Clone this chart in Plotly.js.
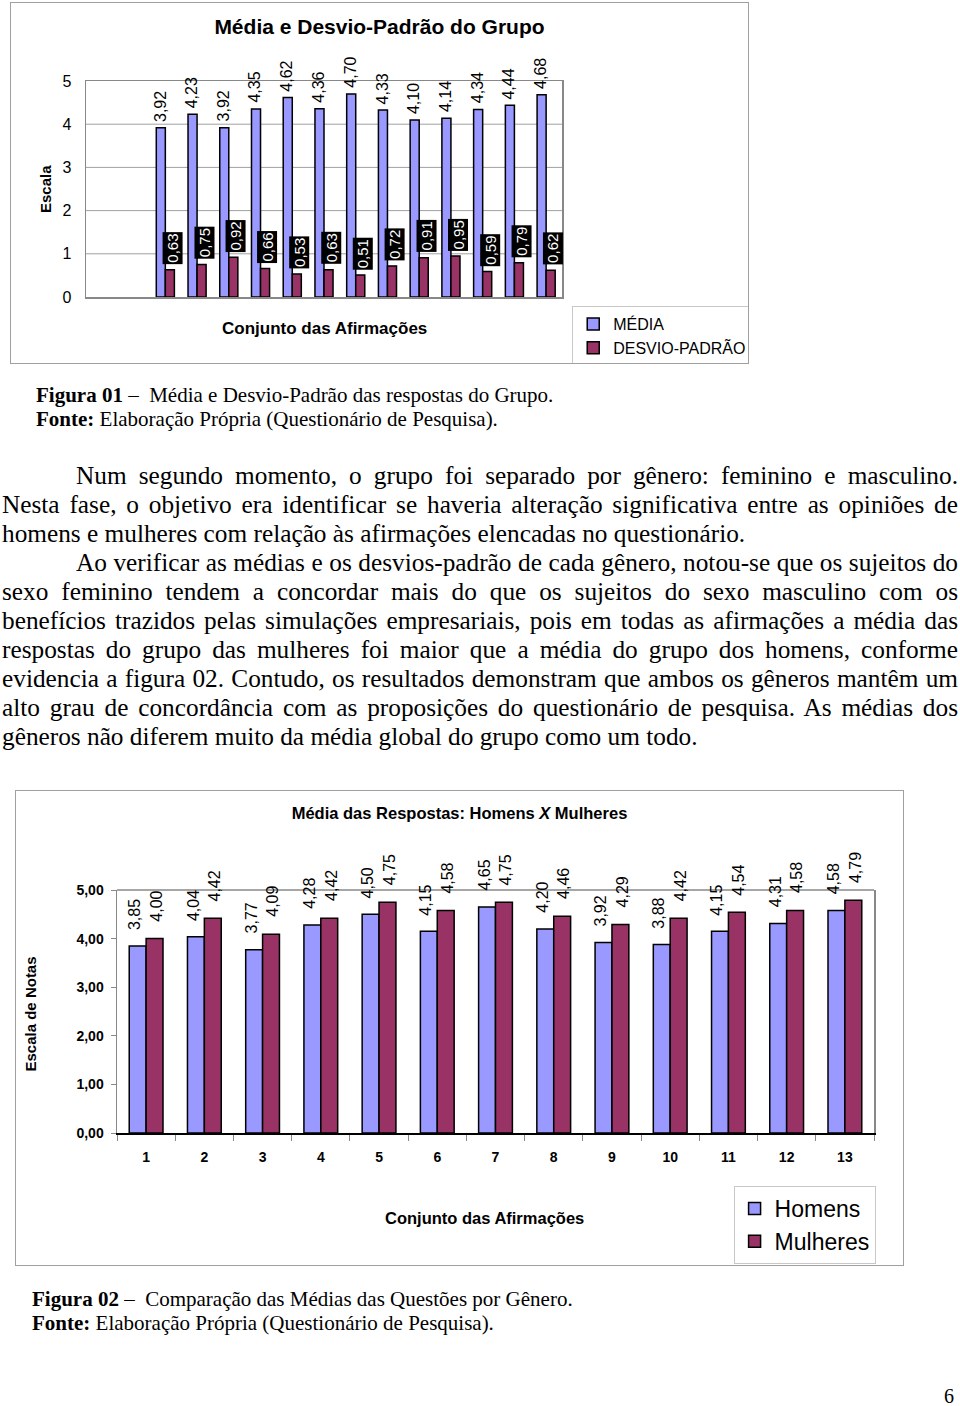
<!DOCTYPE html>
<html><head><meta charset="utf-8">
<script src="https://cdn.plot.ly/plotly-3.0.1.min.js"></script>
<style>
html,body{margin:0;padding:0;background:#fff;}
body{width:960px;height:1406px;position:relative;overflow:hidden;font-family:"Liberation Serif","Times New Roman",serif;color:#000;}
.box{position:absolute;border:1px solid #a0a0a0;box-sizing:border-box;}
#w1{left:10px;top:2px;width:739px;height:362px;}
#w2{left:15px;top:790px;width:889px;height:476px;}
#c1{width:737px;height:360px;}
#c2{width:887px;height:474px;}
.cap{position:absolute;font-size:21px;line-height:24px;white-space:nowrap;}
.txt{position:absolute;left:2px;width:956px;font-size:25.3px;line-height:29px;}
.txt div{white-space:nowrap;}
.txt div.j{text-align:justify;text-align-last:justify;white-space:normal;}
.ind{padding-left:74px;}
#pg{position:absolute;left:944px;top:1388px;font-size:20px;line-height:16px;}
</style></head>
<body>
<div class="box" id="w1"><div id="c1"></div></div>
<div class="cap" style="left:36px;top:383px;"><b>Figura 01</b> –&nbsp; Média e Desvio-Padrão das respostas do Grupo.<br><b>Fonte:</b> Elaboração Própria (Questionário de Pesquisa).</div>
<div class="txt" style="top:461px;">
<div class="j ind">Num segundo momento, o grupo foi separado por gênero: feminino e masculino.</div>
<div class="j">Nesta fase, o objetivo era identificar se haveria alteração significativa entre as opiniões de</div>
<div>homens e mulheres com relação às afirmações elencadas no questionário.</div>
<div class="j ind">Ao verificar as médias e os desvios-padrão de cada gênero, notou-se que os sujeitos do</div>
<div class="j">sexo feminino tendem a concordar mais do que os sujeitos do sexo masculino com os</div>
<div class="j">benefícios trazidos pelas simulações empresariais, pois em todas as afirmações a média das</div>
<div class="j">respostas do grupo das mulheres foi maior que a média do grupo dos homens, conforme</div>
<div class="j">evidencia a figura 02. Contudo, os resultados demonstram que ambos os gêneros mantêm um</div>
<div class="j">alto grau de concordância com as proposições do questionário de pesquisa. As médias dos</div>
<div>gêneros não diferem muito da média global do grupo como um todo.</div>
</div>
<div class="box" id="w2"><div id="c2"></div></div>
<div class="cap" style="left:32px;top:1287px;"><b>Figura 02</b> –&nbsp; Comparação das Médias das Questões por Gênero.<br><b>Fonte:</b> Elaboração Própria (Questionário de Pesquisa).</div>
<div id="pg">6</div>
<script>
// ---- data ----
const afirmacoes = [1,2,3,4,5,6,7,8,9,10,11,12,13];
const media  = [3.92,4.23,3.92,4.35,4.62,4.36,4.70,4.33,4.10,4.14,4.34,4.44,4.68];
const desvio = [0.63,0.75,0.92,0.66,0.53,0.63,0.51,0.72,0.91,0.95,0.59,0.79,0.62];
const homens   = [3.85,4.04,3.77,4.28,4.50,4.15,4.65,4.20,3.92,3.88,4.15,4.31,4.58];
const mulheres = [4.00,4.42,4.09,4.42,4.75,4.58,4.75,4.46,4.29,4.42,4.54,4.58,4.79];
const yTicks1 = [0,1,2,3,4,5];
const yTickText1 = ['0','1','2','3','4','5'];
const yTicks2 = [0,1,2,3,4,5];
const yTickText2 = ['0,00','1,00','2,00','3,00','4,00','5,00'];
const catLabels2 = afirmacoes.map(String);

const fmt = v => v.toFixed(2).replace('.', ',');
const SANS = 'Liberation Sans, Arial, sans-serif';
const C1 = '#9999FF', C2 = '#993366';

// ---- chart 1 ----
const gap1 = 0.43, half1 = (1 - gap1) / 4;
const ann1 = [];
afirmacoes.forEach((a, i) => {
  ann1.push({x: a - half1, y: media[i], xref:'x', yref:'y', text: fmt(media[i]), showarrow:false,
    textangle:-90, yanchor:'bottom', xanchor:'center', yshift:4, xshift:-1,
    font:{family:SANS, size:16, color:'#000'}});
  ann1.push({x: a + half1, y: desvio[i], xref:'x', yref:'y', text: fmt(desvio[i]), showarrow:false,
    textangle:-90, yanchor:'bottom', xanchor:'center', yshift:5, xshift:2.5,
    bgcolor:'#000', borderpad:1, font:{family:SANS, size:15, color:'#fff'}});
});
ann1.push({xref:'paper', yref:'paper', x:0, y:0.5, xanchor:'center', yanchor:'middle', xshift:-41,
  text:'<b>Escala</b>', textangle:-90, showarrow:false, font:{family:SANS, size:15, color:'#000'}});
ann1.push({xref:'paper', yref:'paper', x:0.5, y:0, xanchor:'center', yanchor:'middle', yshift:-31,
  text:'<b>Conjunto das Afirmações</b>', showarrow:false, font:{family:SANS, size:17, color:'#000'}});

const grid1 = yTicks1.slice(1, -1).map(v => ({type:'line', xref:'paper', yref:'y', x0:0, x1:1, y0:v, y1:v,
  layer:'below', line:{color:'#a0a0a0', width:1}}));

Plotly.newPlot('c1', [
  {type:'bar', name:'MÉDIA', x:afirmacoes, y:media, marker:{color:C1, line:{color:'#000', width:1.5}}, legendgroup:'a'},
  {type:'bar', name:'DESVIO-PADRÃO', x:afirmacoes, y:desvio, marker:{color:C2, line:{color:'#000', width:1.5}}, legendgroup:'b'}
], {
  width:737, height:360,
  margin:{l:75, r:186, t:78, b:66, autoexpand:false},
  paper_bgcolor:'#fff', plot_bgcolor:'#fff',
  barmode:'group', bargap:gap1, bargroupgap:0,
  title:{text:'<b>Média e Desvio-Padrão do Grupo</b>', font:{family:SANS, size:21, color:'#000'},
    x:0.5, xref:'container', y:0.9333, yref:'container', yanchor:'middle'},
  xaxis:{range:[-1.5, 13.5], showticklabels:false, ticks:'', showgrid:false, zeroline:false,
    showline:true, linecolor:'#888', linewidth:1.5, mirror:true},
  yaxis:{range:[0,5], tickvals:yTicks1, ticktext:yTickText1, showgrid:false,
    zeroline:false, showline:true, linecolor:'#888', linewidth:1.5, mirror:true, ticks:'', ticklabelstandoff:10,
    tickfont:{family:SANS, size:16, color:'#000'}},
  shapes:grid1,
  showlegend:true,
  legend:{xref:'container', yref:'container', x:0.7615, y:0.158, xanchor:'left', yanchor:'top',
    bordercolor:'#c8c8c8', borderwidth:1, bgcolor:'#fff', tracegroupgap:7, traceorder:'normal',
    font:{family:SANS, size:16, color:'#000'}},
  annotations:ann1
}, {staticPlot:true});

// ---- chart 2 ----
const gap2 = 0.42, half2 = (1 - gap2) / 4;
const ann2 = [];
afirmacoes.forEach((a, i) => {
  ann2.push({x: i - half2, y: homens[i], xref:'x', yref:'y', text: fmt(homens[i]), showarrow:false,
    textangle:-90, yanchor:'bottom', xanchor:'center', yshift:14, xshift:-3,
    font:{family:SANS, size:16, color:'#000'}});
  ann2.push({x: i + half2, y: mulheres[i], xref:'x', yref:'y', text: fmt(mulheres[i]), showarrow:false,
    textangle:-90, yanchor:'bottom', xanchor:'center', yshift:15, xshift:2,
    font:{family:SANS, size:16, color:'#000'}});
});
ann2.push({xref:'paper', yref:'paper', x:0, y:0.5, xanchor:'center', yanchor:'middle', xshift:-87, yshift:-3,
  text:'<b>Escala de Notas</b>', textangle:-90, showarrow:false, font:{family:SANS, size:15, color:'#000'}});
ann2.push({xref:'paper', yref:'paper', x:0.5, y:0, xanchor:'center', yanchor:'middle', xshift:-11.5, yshift:-85,
  text:'<b>Conjunto das Afirmações</b>', showarrow:false, font:{family:SANS, size:16.5, color:'#000'}});

Plotly.newPlot('c2', [
  {type:'bar', name:'Homens', x:catLabels2, y:homens, marker:{color:C1, line:{color:'#000', width:1.5}}, legendgroup:'a'},
  {type:'bar', name:'Mulheres', x:catLabels2, y:mulheres, marker:{color:C2, line:{color:'#000', width:1.5}}, legendgroup:'b'}
], {
  width:887, height:474,
  margin:{l:101, r:29, t:99, b:132, autoexpand:false},
  paper_bgcolor:'#fff', plot_bgcolor:'#fff',
  barmode:'group', bargap:gap2, bargroupgap:0,
  title:{text:'<b>Média das Respostas: Homens <i>X</i> Mulheres</b>', font:{family:SANS, size:16.5, color:'#000'},
    x:0.5, xref:'container', y:0.9536, yref:'container', yanchor:'middle'},
  xaxis:{type:'category', tickson:'boundaries', ticks:'outside', ticklen:6, tickcolor:'#888',
    showgrid:false, zeroline:false, showline:true, linecolor:'#000', linewidth:2, ticklabelstandoff:10,
    tickfont:{family:SANS, size:14, color:'#000', weight:'bold'}},
  yaxis:{range:[0,5], tickvals:yTicks2, ticktext:yTickText2, showgrid:false, zeroline:false,
    showline:true, linecolor:'#888', linewidth:1.5, mirror:true, ticks:'outside', ticklen:5, tickcolor:'#888',
    ticklabelstandoff:4, tickfont:{family:SANS, size:14, color:'#000', weight:'bold'}},
  shapes:[{type:'line', xref:'paper', yref:'paper', x0:0, x1:1, y0:1, y1:1, line:{color:'#888', width:1.5}}],
  showlegend:true,
  legend:{xref:'container', yref:'container', x:0.809, y:0.1667, xanchor:'left', yanchor:'top',
    bordercolor:'#c8c8c8', borderwidth:1, bgcolor:'#fff', tracegroupgap:11, traceorder:'normal',
    font:{family:SANS, size:23, color:'#000'}},
  annotations:ann2
}, {staticPlot:true});
</script>
</body></html>
